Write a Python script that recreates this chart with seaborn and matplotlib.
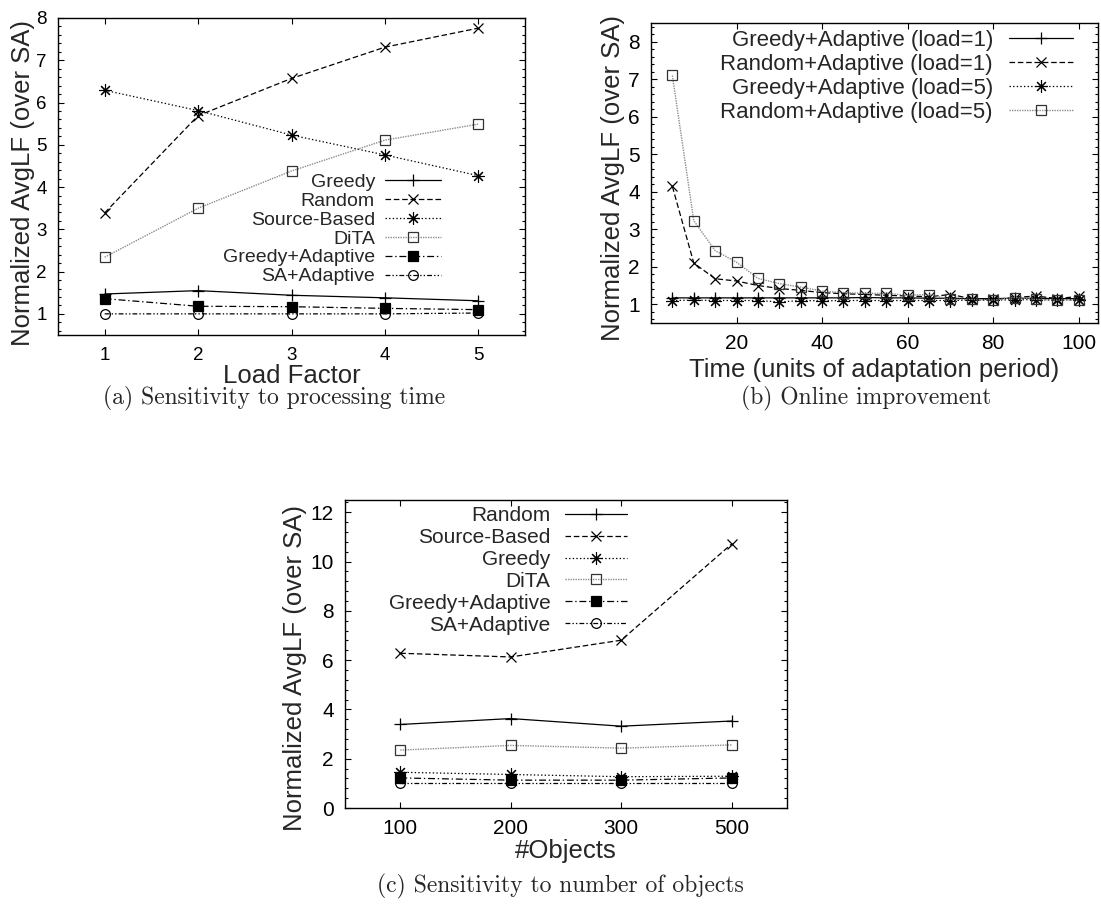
import matplotlib
matplotlib.use("Agg")
import matplotlib.pyplot as plt
import seaborn as sns
import pandas as pd
from matplotlib.ticker import MultipleLocator, FixedLocator

# ---------------- data ----------------
# (a) Sensitivity to processing time
load_factor = [1, 2, 3, 4, 5]
a_greedy = [1.47, 1.55, 1.44, 1.38, 1.31]
a_random = [3.39, 5.69, 6.57, 7.31, 7.76]
a_source = [6.29, 5.81, 5.23, 4.76, 4.27]
a_dita = [2.34, 3.50, 4.38, 5.11, 5.49]
a_greedy_adapt = [1.36, 1.18, 1.17, 1.13, 1.10]
a_sa_adapt = [1.00, 1.00, 1.00, 1.00, 1.02]
a_labels = ["Greedy", "Random", "Source-Based", "DiTA", "Greedy+Adaptive", "SA+Adaptive"]

# (b) Online improvement
time_units = [5, 10, 15, 20, 25, 30, 35, 40, 45, 50, 55, 60, 65, 70, 75, 80, 85, 90, 95, 100]
b_greedy_l1 = [1.17, 1.17, 1.17, 1.17, 1.17, 1.17, 1.17, 1.17, 1.17, 1.18,
               1.17, 1.17, 1.16, 1.16, 1.15, 1.15, 1.16, 1.16, 1.15, 1.15]
b_random_l1 = [4.14, 2.10, 1.68, 1.62, 1.50, 1.42, 1.37, 1.31, 1.28, 1.26,
               1.24, 1.22, 1.20, 1.26, 1.15, 1.13, 1.18, 1.22, 1.15, 1.21]
b_greedy_l5 = [1.10, 1.11, 1.10, 1.10, 1.10, 1.06, 1.10, 1.09, 1.10, 1.10,
               1.10, 1.10, 1.10, 1.10, 1.11, 1.11, 1.12, 1.12, 1.11, 1.12]
b_random_l5 = [7.10, 3.23, 2.43, 2.12, 1.69, 1.55, 1.46, 1.35, 1.31, 1.29,
               1.29, 1.24, 1.26, 1.13, 1.13, 1.11, 1.18, 1.13, 1.11, 1.11]
b_labels = ["Greedy+Adaptive (load=1)", "Random+Adaptive (load=1)",
            "Greedy+Adaptive (load=5)", "Random+Adaptive (load=5)"]

# (c) Sensitivity to number of objects
objects = ["100", "200", "300", "500"]
c_random = [3.39, 3.63, 3.32, 3.53]
c_source = [6.28, 6.13, 6.81, 10.72]
c_greedy = [1.45, 1.36, 1.27, 1.29]
c_dita = [2.35, 2.54, 2.43, 2.56]
c_greedy_adapt = [1.22, 1.13, 1.13, 1.22]
c_sa_adapt = [1.00, 1.00, 1.00, 1.00]
c_labels = ["Random", "Source-Based", "Greedy", "DiTA", "Greedy+Adaptive", "SA+Adaptive"]

# ---------------- style ----------------
sns.set_style("ticks")
plt.rcParams["font.family"] = ["Liberation Sans", "DejaVu Sans"]
plt.rcParams["lines.scale_dashes"] = False

W, H = 1101, 907
fig = plt.figure(figsize=(W / 100, H / 100), dpi=100)


def rect(l, t, r, b):
    return [l / W, 1 - b / H, (r - l) / W, (b - t) / H]


ASTER = (8, 2, 0)
S_SOLID = dict(color="black", linestyle="-", lw=0.9)
S_DASH = dict(color="black", linestyle=(0, (4, 2)), lw=0.9)
S_DOT = dict(color="black", linestyle=(0, (1.0, 1.6)), lw=0.9)
S_GRAY = dict(color="#8c8c8c", linestyle=(0, (1, 0.8)), lw=1.0)
S_DASHDOT = dict(color="black", linestyle=(0, (5, 2, 1, 2)), lw=0.9)
S_DASHDOTDOT = dict(color="black", linestyle=(0, (3.5, 1.5, 1, 1.5, 1, 1.5)), lw=0.9)

M_PLUS = dict(marker="+", markersize=8, markeredgecolor="black", markeredgewidth=0.9)
M_X = dict(marker="x", markersize=7, markeredgecolor="black", markeredgewidth=0.9)
M_AST = dict(marker=ASTER, markersize=9, markeredgecolor="black", markeredgewidth=0.8)
M_SQ = dict(marker="s", markersize=7, markerfacecolor="none", markeredgecolor="#333333", markeredgewidth=0.9)
M_FSQ = dict(marker="s", markersize=7, markerfacecolor="black", markeredgecolor="black", markeredgewidth=0.9)
M_CIR = dict(marker="o", markersize=7, markerfacecolor="none", markeredgecolor="black", markeredgewidth=0.9)


def draw(ax, x, y, label, style, mstyle):
    sns.lineplot(x=x, y=y, ax=ax, label=label, sort=False, legend=False, **style, **mstyle)


def style_axes(ax, tick_fs, xpad=8, ypad=8, maj_len=4.0, min_len=2.2):
    for sp in ax.spines.values():
        sp.set_visible(True)
        sp.set_linewidth(1.0)
        sp.set_color("black")
    ax.tick_params(which="both", direction="in", top=True, right=True,
                   colors="black", width=0.8)
    ax.tick_params(which="major", length=maj_len, labelsize=tick_fs)
    ax.tick_params(axis="x", which="major", pad=xpad)
    ax.tick_params(axis="y", which="major", pad=ypad)
    ax.tick_params(which="minor", length=min_len)
    ax.grid(False)


def legend(ax, x_px, y_px, fs, spacing, hlen, tpad):
    handles, labels = ax.get_legend_handles_labels()
    leg = ax.legend(handles, labels, loc="upper right",
                    bbox_to_anchor=(x_px / W, 1 - y_px / H), bbox_transform=fig.transFigure,
                    frameon=False, markerfirst=False, fontsize=fs, labelspacing=spacing,
                    handlelength=hlen, handletextpad=tpad, borderpad=0, borderaxespad=0,
                    numpoints=1)
    return leg


# ---------------- panel (a) ----------------
axA = fig.add_axes(rect(58, 18, 525, 335))
draw(axA, load_factor, a_greedy, a_labels[0], S_SOLID, M_PLUS)
draw(axA, load_factor, a_random, a_labels[1], S_DASH, M_X)
draw(axA, load_factor, a_source, a_labels[2], S_DOT, M_AST)
draw(axA, load_factor, a_dita, a_labels[3], S_GRAY, M_SQ)
draw(axA, load_factor, a_greedy_adapt, a_labels[4], S_DASHDOT, M_FSQ)
draw(axA, load_factor, a_sa_adapt, a_labels[5], S_DASHDOTDOT, M_CIR)
axA.set_xlim(0.5, 5.5)
axA.set_ylim(0.5, 8)
axA.xaxis.set_major_locator(FixedLocator(load_factor))
axA.yaxis.set_major_locator(MultipleLocator(1))
axA.yaxis.set_minor_locator(MultipleLocator(0.2))
style_axes(axA, 13.5, xpad=8.5)
axA.set_xlabel("Load Factor", fontsize=18.5)
axA.set_ylabel("Normalized AvgLF (over SA)", fontsize=18.5)
axA.xaxis.set_label_coords(0.5, -0.09)
axA.yaxis.set_label_coords(-0.05, 0.48)
legend(axA, 441, 173, 14, 0.07, 2.9, 0.5)

# ---------------- panel (b) ----------------
axB = fig.add_axes(rect(651, 23, 1098, 323))
draw(axB, time_units, b_greedy_l1, b_labels[0], S_SOLID, M_PLUS)
draw(axB, time_units, b_random_l1, b_labels[1], S_DASH, M_X)
draw(axB, time_units, b_greedy_l5, b_labels[2], S_DOT, M_AST)
draw(axB, time_units, b_random_l5, b_labels[3], S_GRAY, M_SQ)
axB.set_xlim(0, 104.5)
axB.set_ylim(0.5, 8.5)
axB.xaxis.set_major_locator(FixedLocator([20, 40, 60, 80, 100]))
axB.yaxis.set_major_locator(MultipleLocator(1))
axB.yaxis.set_minor_locator(MultipleLocator(0.2))
style_axes(axB, 15)
axB.set_xlabel("Time (units of adaptation period)", fontsize=18.5)
axB.set_ylabel("Normalized AvgLF (over SA)", fontsize=18.5)
axB.xaxis.set_label_coords(0.5, -0.115)
axB.yaxis.set_label_coords(-0.058, 0.483)
legend(axB, 1073, 30, 16, 0.13, 2.9, 0.7)

# ---------------- panel (c) ----------------
axC = fig.add_axes(rect(345, 500, 787, 808))
draw(axC, objects, c_random, c_labels[0], S_SOLID, M_PLUS)
draw(axC, objects, c_source, c_labels[1], S_DASH, M_X)
draw(axC, objects, c_greedy, c_labels[2], S_DOT, M_AST)
draw(axC, objects, c_dita, c_labels[3], S_GRAY, M_SQ)
draw(axC, objects, c_greedy_adapt, c_labels[4], S_DASHDOT, M_FSQ)
draw(axC, objects, c_sa_adapt, c_labels[5], S_DASHDOTDOT, M_CIR)
axC.set_xlim(-0.5, 3.5)
axC.set_ylim(0, 12.5)
axC.yaxis.set_major_locator(MultipleLocator(2))
axC.yaxis.set_minor_locator(MultipleLocator(0.4))
style_axes(axC, 15)
axC.set_xlabel("#Objects", fontsize=18.5)
axC.set_ylabel("Normalized AvgLF (over SA)", fontsize=18.5)
axC.xaxis.set_label_coords(0.5, -0.1)
axC.yaxis.set_label_coords(-0.086, 0.455)
legend(axC, 627, 506, 15, 0.14, 3.0, 0.67)

# ---------------- captions ----------------
cap_kw = dict(fontsize=17, family=["cmr10", "DejaVu Serif"], ha="center", va="center")
fig.text(274 / W, 1 - 398 / H, "(a) Sensitivity to processing time", **cap_kw)
fig.text(866 / W, 1 - 398 / H, "(b) Online improvement", **cap_kw)
fig.text(560 / W, 1 - 886 / H, "(c) Sensitivity to number of objects", **cap_kw)

fig.savefig("out.png", dpi=100)
